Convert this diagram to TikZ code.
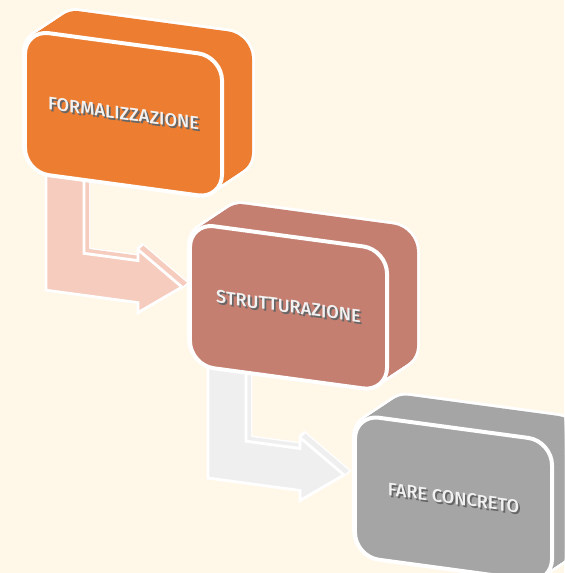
\documentclass[tikz,border=0pt]{standalone}
\usepackage{fontspec}
\setmainfont{Fira Sans}[BoldFont={Fira Sans Medium}]

\definecolor{creambg}{HTML}{FFF7E8}
\definecolor{formalorange}{HTML}{ED7D31}
\definecolor{structbrown}{HTML}{C47F70}
\definecolor{concretegray}{HTML}{A5A5A5}
\definecolor{arrowpink}{HTML}{F5CCBE}
\definecolor{arrowgray}{HTML}{EFEFEF}

% white label with a soft dark shadow
\newcommand{\shtext}[1]{\makebox[0pt][l]{\hspace{1.5pt}\raisebox{-1.5pt}{\color{black!60}#1}}#1}

\tikzset{
  facebox/.style={draw=white, line width=3.4pt, rounded corners=0.72cm,
    minimum width=5.91cm, minimum height=4.26cm, inner sep=0pt,
    transform shape, text=white!95!black, font=\bfseries\fontsize{15.5}{18}\selectfont},
  hullline/.style={draw=white, line width=5pt, rounded corners=0.72cm},
  arrowline/.style={draw=white, line width=2.4pt, line join=miter},
  arrowshape/.style={insert path={(46,150) -- (84,150) -- (84,242) -- (138,242)
    -- (138,231) -- (182,262.5) -- (138,294) -- (138,284) -- (46,284) -- cycle}}
}

\begin{document}
\begin{tikzpicture}[x=0.03cm, y=-0.03cm]
\useasboundingbox (0,0) rectangle (564,573);
\fill[creambg] (0,0) rectangle (564,573);
\clip (0,0) rectangle (564,573);

\begin{scope}[yslant=-0.135]
  % bent arrows, under the boxes
  \foreach \ax/\ay/\acol in {0/0/arrowpink, 162/166/arrowgray} {
    \begin{scope}[shift={(\ax,\ay)}]
      \foreach \k in {1,...,5}
        \draw[arrowline, shift={(\k,-\k)}, arrowshape];
      \foreach \k in {1,...,5}
        \fill[\acol, shift={(\k,-\k)}, arrowshape];
      \draw[arrowline, fill=\acol, arrowshape];
    \end{scope}
  }

  % the three blocks, last one first
  \foreach \bx/\by/\bcol/\bname/\btext in {
      355/364.6/concretegray/concreto/FARE CONCRETO,
      190/195.4/structbrown/struttura/STRUTTURAZIONE,
      25/24.6/formalorange/formal/FORMALIZZAZIONE} {
    \foreach \k in {0,...,15}
      \draw[hullline, shift={(\bx+2*\k,\by-1.6*\k)}] (0,0) rectangle (197,142);
    \foreach \k in {0,...,15}
      \fill[\bcol, rounded corners=0.72cm, shift={(\bx+2*\k,\by-1.6*\k)}] (0,0) rectangle (197,142);
    \node[facebox, fill=\bcol] (\bname) at (\bx+98.5,\by+73) {\shtext{\btext}};
  }
\end{scope}
\end{tikzpicture}
\end{document}
